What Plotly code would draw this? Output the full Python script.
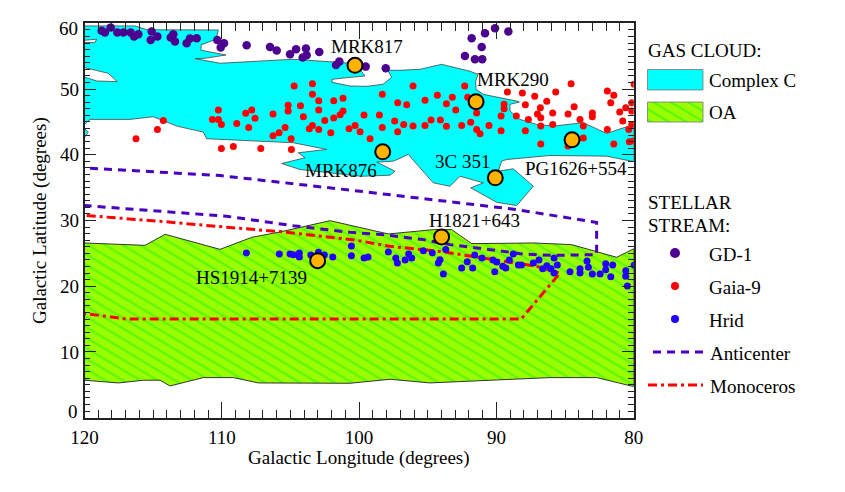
import plotly.graph_objects as go

FONT = "Liberation Serif"
INK = "#222222"

# gas clouds, outline in (longitude, latitude)
complex_c_lon = [120, 116.32, 115.45, 110.25, 110.42, 111.51, 111.51, 110.5, 109.69, 111.22, 111.95, 110.13,
                 107.22, 104.81, 101.9, 100.66, 99.93, 99.57, 100.66, 101.97, 101.97, 100.66, 99.43, 98.26,
                 97.63, 97.9, 97.02, 95.56, 93.99, 91.92, 91.34, 91.51, 91.49, 90.95, 88.52, 88.33, 89.01,
                 89.01, 88.28, 87.07, 85.86, 83.67, 81.97, 80, 80, 81.97, 86.1, 89.25, 89.62, 89.86, 88.77,
                 87.31, 88.52, 89.98, 91.87, 90.95, 92.65, 93.38, 94.6, 96.05, 96.42, 97.51, 98.72, 97.38,
                 97.75, 99.69, 99.93, 104.3, 105.64, 103.94, 104.43, 102.36, 104.79, 111.1, 111.35, 113.28,
                 114.99, 116.69, 119.6, 120, 120, 119.11, 117.61, 118.27, 120, 120, 119.24, 119.11, 120, 120,
                 None, 120, 119.72, 120]
complex_c_lat = [59.6, 59.6, 59.02, 58.99, 57.58, 56.71, 55.9, 55.55, 55.18, 54.68, 54.63, 53.92,
                 54.22, 54.53, 54.12, 53.92, 53.0, 51.98, 51.78, 51.48, 51.02, 50.46, 50.41, 50.72,
                 51.78, 52.85, 52.85, 53.0, 53.76, 52.7, 52.24, 51.17, 49.95, 49.19, 48.17, 48.02, 47.67,
                 46.65, 45.38, 44.62, 44.36, 44.88, 43.25, 44.62, 38.95, 39.79, 39.89, 39.28, 39.02, 37.5, 37.87,
                 35.21, 32.27, 32.77, 34.97, 35.73, 36.74, 35.21, 35.73, 39.28, 40.05, 39.02, 38.88, 37.5,
                 36.89, 36.74, 36.74, 37.76, 38.67, 39.54, 40.3, 40.81, 41.83, 42.44, 43.45, 44.36,
                 45.79, 45.38, 45.38, 44.62, 51.83, 51.22, 51.13, 52.39, 53.26, 57.07, 57.07, 57.58, 57.42, 59.6,
                 None, 43.96, 43.45, 42.59]

oa_lon = [120, 115.59, 114.13, 110.13, 107.82, 105.76, 102.12, 99.93, 97.87, 94.59, 93.26, 91.8, 87.31,
          84.52, 81.24, 80, 80, 82.7, 86.1, 94.84, 97.75, 100.66, 107.34, 109.16, 111.34, 113.77, 114.5,
          115.7, 117.53, 120]
oa_lat = [26.58, 26.22, 27.9, 25.61, 27.44, 28.26, 29.97, 28.97, 27.95, 28.61, 28.61, 26.48, 26.58,
          26.33, 24.4, 25.7, 4.73, 6.1, 6.1, 5.29, 5.85, 5.24, 5.29, 6.1, 6.1, 4.83, 5.7,
          5.7, 5.29, 5.7]

# stellar streams drawn as lines
anticenter_lon = [119.6, 110.1, 99.93, 88.52, 82.7, 82.7, 86.1, 88.04, 90.46, 93.38, 95.32, 98.23, 100.66,
                  104.8, 109.64, 120]
anticenter_lat = [37.96, 36.83, 34.45, 31.66, 29.7, 24.8, 24.7, 24.9, 25.56, 26.33, 27.09, 27.85, 28.2,
                  29.2, 30.65, 32.27]

monoceros_lon = [119.84, 114.5, 109.64, 105.5, 100.17, 97.75, 94.1, 92.2, 89.5, 87.07, 85.37, 88.2, 116.93,
                 118.87, 120]
monoceros_lat = [30.75, 29.88, 28.97, 28.26, 26.99, 26.07, 25.3, 24.7, 23.79, 23.03, 22.0, 15.0, 15.0,
                 15.55, 15.86]

# stellar streams drawn as points
gd1_lon = [118.75, 118.51, 118.09, 117.61, 117.17, 116.64, 116.39, 116.08, 115.11, 115.18, 114.69, 113.53,
           113.72, 113.41, 112.56, 112.32, 111.83, 110.33, 109.84, 110.08, 108.19, 106.49, 106.0, 105.03,
           104.59, 103.87, 103.82, 104.11, 102.9, 101.44, 101.68, 99.52, 98.06, 92.29, 91.56, 91.03, 91.07,
           91.8, 90.83, 90.1, 89.13]
gd1_lat = [58.85, 58.59, 59.35, 58.59, 58.59, 58.59, 57.98, 58.34, 58.74, 57.47, 57.98, 58.34,
           57.83, 57.22, 56.97, 57.68, 57.73, 57.47, 56.97, 56.31, 56.66, 56.41, 55.85, 55.29,
           56.05, 56.15, 55.14, 54.78, 55.64, 54.17, 53.66, 53.41, 53.16, 55.04, 54.53, 54.53, 56.41,
           57.73, 58.49, 59.25, 58.74]

gaia9_lon = [116.25, 114.69, 114.26, 110.69, 110.25, 110.25, 110.03, 110.03, 109.16, 108.91, 108.26, 107.82,
             107.58, 108.04, 107.16, 106.27, 106.27, 105.83, 105.39, 105.17, 105.17, 104.95, 104.93, 104.73,
             104.27, 104.06, 103.62, 103.4, 103.4, 103.4, 102.94, 102.94, 102.94, 102.5, 102.06, 101.85, 101.85,
             101.38, 101.17, 101.17, 100.73, 100.29, 99.93, 99.64, 99.2, 98.52, 98.31, 98.31, 97.41, 97.19,
             97.19, 96.75, 96.53, 96.07, 96.07, 95.2, 95.2, 94.76, 94.3, 94.08, 93.64, 93.64, 93.21, 92.96,
             92.53, 92.31, 92.09, 91.87, 91.44, 91.44, 91.19, 90.54, 89.66, 89.66, 89.44, 89.44, 89.2, 88.55,
             88.11, 87.89, 87.89, 87.67, 87.21, 87.01, 86.8, 86.77, 86.77, 86.77, 86.33, 85.9, 85.9, 85.68,
             84.78, 84.78, 84.56, 84.34, 83.91, 83.67, 83.67, 83.01, 83.01, 81.92, 81.92, 81.67, 81.45, 81.45,
             81.02, 80.8, 80.58, 80.36, 80.32, 80.14, 80.14, 80.14, 79.97, 80.02]
gaia9_lat = [42.44, 43.86, 45.23, 45.38, 46.81, 45.38, 44.62, 40.96, 41.27, 44.77, 46.3, 46.81,
             45.54, 44.16, 40.96, 46.2, 42.89, 43.35, 44.16, 47.52, 46.65, 42.44, 40.81, 50.46,
             47.47, 45.79, 43.96, 50.82, 49.19, 44.47, 48.23, 46.81, 43.86, 45.23, 43.35, 48.23, 45.59,
             46.09, 48.58, 46.65, 43.96, 44.47, 43.5, 46.04, 42.44, 46.04, 49.19, 44.16, 45.13, 47.92,
             43.5, 44.62, 47.62, 50.46, 44.37, 48.28, 44.47, 45.28, 49.04, 45.28, 47.77, 44.32, 48.74, 46.81,
             44.47, 50.46, 48.74, 44.93, 46.35, 43.86, 43.2, 44.47, 45.89, 43.66, 47.67, 47.01, 49.55, 45.89,
             49.4, 47.62, 43.66, 45.38, 48.89, 46.2, 47.16, 45.64, 44.37, 41.62, 48.13, 46.35, 44.62, 49.55,
             46.2, 41.32, 50.82, 47.31, 45.38, 44.37, 42.54, 46.35, 45.79, 49.7, 43.86, 47.92, 49.04, 41.62,
             46.5, 45.13, 47.16, 43.86, 41.98, 47.92, 46.65, 44.62, 50.72, 42.08]

hrid_lon = [108.21, 105.81, 105.03, 104.78, 104.35, 104.35, 103.52, 102.96, 102.53, 101.92, 100.56, 100.56,
            99.64, 99.35, 97.87, 97.33, 97.21, 96.65, 96.39, 96.17, 95.32, 94.67, 94.11, 94.23, 93.86, 93.69,
            92.53, 92.12, 91.73, 91.58, 91.05, 90.25, 89.98, 89.54, 89.32, 90.12, 89.06, 88.77, 88.4, 88.18,
            87.31, 86.9, 86.63, 86.33, 85.8, 85.56, 86.02, 85.8, 84.64, 83.91, 83.91, 83.3, 83.01, 82.45,
            82.04, 82.04, 81.67, 81.53, 83.4, 80.58, 80.58, 80.46, 79.97]
hrid_lat = [25.06, 24.91, 24.91, 24.8, 25.06, 24.45, 24.75, 25.16, 24.75, 24.45, 26.12, 24.65,
            24.3, 24.45, 25.21, 24.3, 23.53, 23.99, 24.91, 24.3, 25.41, 25.06, 24.04, 23.53, 21.86, 25.57,
            22.77, 23.74, 22.77, 24.75, 24.3, 23.99, 23.69, 23.03, 22.77, 22.21, 23.99, 24.91, 23.23, 23.23,
            23.53, 23.99, 22.67, 23.13, 24.3, 23.23, 22.67, 22.01, 22.21, 22.67, 22.01, 22.87, 21.86, 21.86,
            23.43, 22.52, 21.45, 23.23, 23.84, 22.37, 21.5, 20.03, 23.18]

# background targets and where their names sit
source_names = ["MRK817", "MRK290", "MRK876", "3C 351", "PG1626+554", "HS1914+7139", "H1821+643"]
source_lon = [100.3, 91.48, 98.28, 90.08, 84.49, 103.02, 93.99]
source_lat = [53.61, 48.07, 40.45, 36.49, 42.28, 23.89, 27.5]
name_lon = [99.42, 88.81, 101.32, 92.48, 84.2, 107.87, 91.63]
name_lat = [56.5, 51.47, 37.6, 38.93, 37.9, 21.4, 29.98]

CYAN = "#00FFFF"
LIME = "#99FF00"
HATCH = "#22EE11"
INDIGO = "#4B0090"
RED = "#FF0000"
BLUE = "#2200FF"
DASH_BLUE = "#4A00C0"
ORANGE = "#FFB300"

# the stock "\" pattern is 45 degrees, the hatching here is shallower, so use a tile of slope 0.6 stripes
TILE = 52
stripes = []
for i in range(-3, 6):
    c = i * TILE / 5
    stripes.append(f"M0,{c} L{TILE},{c + 0.6 * TILE} L{TILE},{c + 0.6 * TILE + 2.6} L0,{c + 2.6} Z")
oa_pattern = dict(path=" ".join(stripes), bgcolor=LIME, fgcolor=HATCH, size=TILE, solidity=1)

fig = go.Figure()

fig.add_trace(go.Scatter(x=complex_c_lon, y=complex_c_lat, mode="lines", fill="toself", fillcolor=CYAN,
                         line=dict(color="#444444", width=0.8)))
fig.add_trace(go.Scatter(x=oa_lon, y=oa_lat, mode="lines", fill="toself", fillcolor=LIME, fillpattern=oa_pattern,
                         line=dict(color="#333333", width=1)))
fig.add_trace(go.Scatter(x=anticenter_lon, y=anticenter_lat, mode="lines",
                         line=dict(color=DASH_BLUE, width=3, dash="8px,6px")))
fig.add_trace(go.Scatter(x=monoceros_lon, y=monoceros_lat, mode="lines",
                         line=dict(color=RED, width=3, dash="9px,4px,3px,4px")))
fig.add_trace(go.Scatter(x=gd1_lon, y=gd1_lat, mode="markers", marker=dict(color=INDIGO, size=8.5)))
fig.add_trace(go.Scatter(x=gaia9_lon, y=gaia9_lat, mode="markers", marker=dict(color=RED, size=7)))
fig.add_trace(go.Scatter(x=hrid_lon, y=hrid_lat, mode="markers", marker=dict(color=BLUE, size=7)))
fig.add_trace(go.Scatter(x=source_lon, y=source_lat, mode="markers",
                         marker=dict(color=ORANGE, size=15, line=dict(color="black", width=2))))

# key on the right, on an overlay axis that runs in page pixels
fig.add_trace(go.Scatter(x=[647.5, 703, 703, 647.5, 647.5], y=[69.5, 69.5, 90, 90, 69.5], xaxis="x2", yaxis="y2",
                         mode="lines", fill="toself", fillcolor=CYAN, line=dict(color="#777777", width=0.8)))
fig.add_trace(go.Scatter(x=[647.5, 703, 703, 647.5, 647.5], y=[102, 102, 122, 122, 102], xaxis="x2", yaxis="y2",
                         mode="lines", fill="toself", fillcolor=LIME, fillpattern=oa_pattern,
                         line=dict(color="#777777", width=0.8)))
fig.add_trace(go.Scatter(x=[675], y=[253], xaxis="x2", yaxis="y2", mode="markers",
                         marker=dict(color=INDIGO, size=10)))
fig.add_trace(go.Scatter(x=[675], y=[286], xaxis="x2", yaxis="y2", mode="markers",
                         marker=dict(color=RED, size=8)))
fig.add_trace(go.Scatter(x=[675], y=[319], xaxis="x2", yaxis="y2", mode="markers",
                         marker=dict(color=BLUE, size=8)))
fig.add_trace(go.Scatter(x=[653, 703], y=[352, 352], xaxis="x2", yaxis="y2", mode="lines",
                         line=dict(color=DASH_BLUE, width=3, dash="8px,6px")))
fig.add_trace(go.Scatter(x=[648, 703], y=[385, 385], xaxis="x2", yaxis="y2", mode="lines",
                         line=dict(color=RED, width=3, dash="9px,4px,3px,4px")))

annotations = []
for name, lon, lat in zip(source_names, name_lon, name_lat):
    annotations.append(dict(x=lon, y=lat, xref="x", yref="y", text=name, showarrow=False,
                            font=dict(family=FONT, size=19, color="black")))

key_labels = [
    ("GAS CLOUD:", 648, 50),
    ("Complex C", 709, 80),
    ("OA", 709, 112),
    ("STELLAR", 648, 202),
    ("STREAM:", 648, 225),
    ("GD-1", 709, 254),
    ("Gaia-9", 709, 287),
    ("Hrid", 709, 320),
    ("Anticenter", 710, 353),
    ("Monoceros", 710, 386),
]
for text, px, py in key_labels:
    annotations.append(dict(x=px, y=py, xref="x2", yref="y2", text=text, showarrow=False, xanchor="left",
                            xshift=-2, font=dict(family=FONT, size=19, color="black")))

# end labels on the y axis sit inside the frame height
for text, py in [("60", 28), ("0", 411)]:
    annotations.append(dict(x=80, y=py, xref="x2", yref="y2", text=text, showarrow=False, xanchor="right",
                            font=dict(family=FONT, size=19, color="black")))

annotations.append(dict(x=359, y=458, xref="x2", yref="y2", text="Galactic Longitude (degrees)", showarrow=False,
                        font=dict(family=FONT, size=19, color="black")))
annotations.append(dict(x=40, y=221, xref="x2", yref="y2", text="Galactic Latitude (degrees)", showarrow=False,
                        textangle=-90, font=dict(family=FONT, size=19, color="black")))

fig.update_layout(
    width=845,
    height=492,
    margin=dict(l=0, r=0, t=0, b=0),
    paper_bgcolor="white",
    plot_bgcolor="rgba(0,0,0,0)",
    showlegend=False,
    annotations=annotations,
    font=dict(family=FONT, size=19, color="black"),
    xaxis=dict(
        domain=[84.5 / 845, 633.7 / 845],
        range=[120, 80],
        automargin=False,
        tickvals=[120, 110, 100, 90, 80],
        ticks="inside",
        ticklen=16,
        tickwidth=1.3,
        tickcolor=INK,
        ticklabelstandoff=2,
        showgrid=False,
        zeroline=False,
        showline=True,
        linecolor=INK,
        linewidth=1.5,
        mirror="ticks",
        minor=dict(dtick=1, tick0=80, ticks="inside", ticklen=8, tickwidth=1.2, tickcolor=INK, showgrid=False),
    ),
    yaxis=dict(
        domain=[(492 - 417.7) / 492, (492 - 23.3) / 492],
        range=[0, 60],
        automargin=False,
        tickvals=[0, 10, 20, 30, 40, 50, 60],
        ticktext=["", "10", "20", "30", "40", "50", ""],
        ticks="inside",
        ticklen=11.5,
        tickwidth=1.3,
        tickcolor=INK,
        showgrid=False,
        zeroline=False,
        showline=True,
        linecolor=INK,
        linewidth=1.5,
        mirror="ticks",
        minor=dict(dtick=1, tick0=0, ticks="inside", ticklen=6, tickwidth=1.2, tickcolor=INK, showgrid=False),
    ),
    xaxis2=dict(domain=[0, 1], range=[0, 845], visible=False, anchor="y2", automargin=False),
    yaxis2=dict(domain=[0, 1], range=[492, 0], visible=False, anchor="x2", automargin=False),
)

fig.write_html("out.html", post_script="document.body.style.margin='0';", config={"displayModeBar": False})
